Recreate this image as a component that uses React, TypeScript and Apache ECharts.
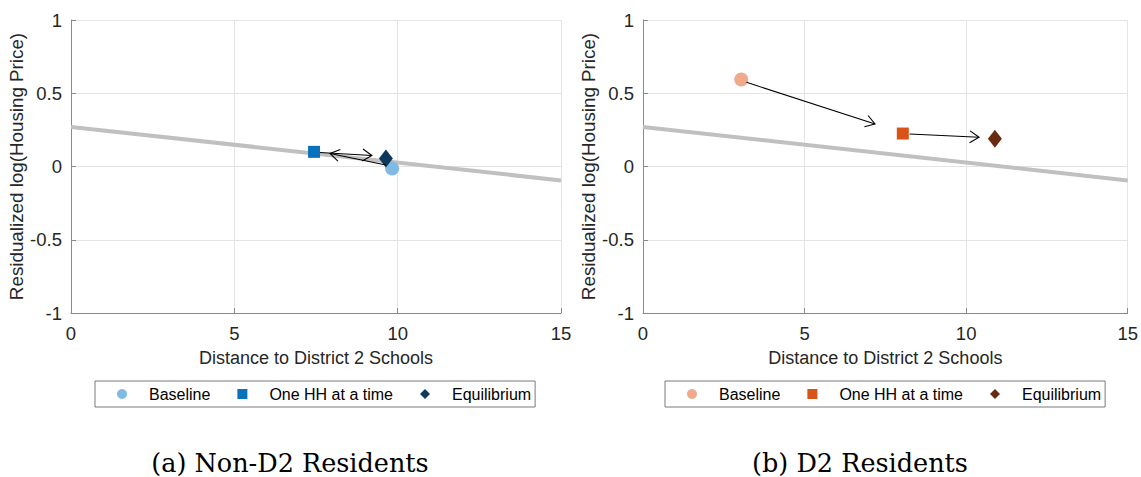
import React, { useEffect, useRef } from "react";
import * as echarts from "echarts";

const xTicks = [0, 5, 10, 15];
const yTicks = [-1, -0.5, 0, 0.5, 1];
const fitLine: number[][] = [[0, 0.27], [15, -0.095]];

const nonD2Baseline: number[][] = [[9.83, -0.014]];
const nonD2OneHH: number[][] = [[7.44, 0.1]];
const nonD2Equilibrium: number[][] = [[9.64, 0.055]];
const nonD2Arrows: number[][] = [
  [9.64, 0.01, 7.93, 0.089],
  [7.62, 0.096, 9.21, 0.075],
];

const d2Baseline: number[][] = [[3.04, 0.594]];
const d2OneHH: number[][] = [[8.04, 0.225]];
const d2Equilibrium: number[][] = [[10.89, 0.19]];
const d2Arrows: number[][] = [
  [3.2, 0.575, 7.18, 0.29],
  [8.25, 0.222, 10.4, 0.2],
];

const legendNames = ["Baseline", "One HH at a time", "Equilibrium"];
const nonD2Colors = ["#80b9e3", "#0a72bd", "#0d3a5c"];
const d2Colors = ["#f0a98b", "#d95319", "#6a2a10"];
const captions = ["(a) Non-D2 Residents", "(b) D2 Residents"];

const FONT = "'Liberation Sans', Arial, sans-serif";

function arrowRender(params: any, api: any) {
  const p1 = api.coord([api.value(0), api.value(1)]);
  const p2 = api.coord([api.value(2), api.value(3)]);
  const ang = Math.atan2(p2[1] - p1[1], p2[0] - p1[0]);
  const L = 11;
  const a = Math.PI / 5.5;
  const h1 = [p2[0] - L * Math.cos(ang - a), p2[1] - L * Math.sin(ang - a)];
  const h2 = [p2[0] - L * Math.cos(ang + a), p2[1] - L * Math.sin(ang + a)];
  return {
    type: "group",
    children: [
      {
        type: "line",
        shape: { x1: p1[0], y1: p1[1], x2: p2[0], y2: p2[1] },
        style: { stroke: "#000", lineWidth: 1.1 },
      },
      {
        type: "polyline",
        shape: { points: [h1, p2, h2] },
        style: { stroke: "#000", fill: null, lineWidth: 1.1 },
      },
    ],
  };
}

export default function App() {
  const ref = useRef<HTMLDivElement>(null);
  useEffect(() => {
    if (!ref.current) return;
    const chart = echarts.init(ref.current, undefined, { renderer: "svg" });
    const grids = [
      { left: 71, top: 20, width: 490, height: 293 },
      { left: 643, top: 20, width: 489, height: 293 },
    ];
    const axisCommon = {
      axisLine: { show: true, onZero: false, lineStyle: { color: "#8a8a8a", width: 1 } },
      axisTick: { show: true, inside: true, length: 5, lineStyle: { color: "#8a8a8a" } },
      splitLine: { show: true, lineStyle: { color: "#e4e4e4", width: 1 } },
      axisLabel: { color: "#262626", fontSize: 18.5, fontFamily: FONT },
    };
    const xAxis = [0, 1].map((i) => ({
      ...axisCommon,
      type: "value",
      gridIndex: i,
      min: 0,
      max: 15,
      interval: 5,
      name: "Distance to District 2 Schools",
      nameLocation: "middle",
      nameGap: 36,
      nameTextStyle: { color: "#262626", fontSize: 18, fontFamily: FONT },
      axisLabel: { ...axisCommon.axisLabel, margin: 11, formatter: (v: number) => (xTicks.includes(v) ? String(v) : "") },
    }));
    const yAxis = [0, 1].map((i) => ({
      ...axisCommon,
      type: "value",
      gridIndex: i,
      min: -1,
      max: 1,
      interval: 0.5,
      name: "Residualized log(Housing Price)",
      nameLocation: "middle",
      nameGap: 44,
      nameTextStyle: { color: "#262626", fontSize: 18.8, fontFamily: FONT },
      axisLabel: { ...axisCommon.axisLabel, margin: 9, formatter: (v: number) => (yTicks.includes(v) ? String(v) : "") },
    }));

    const panels = [
      { base: nonD2Baseline, one: nonD2OneHH, eq: nonD2Equilibrium, arrows: nonD2Arrows, colors: nonD2Colors, tag: "a" },
      { base: d2Baseline, one: d2OneHH, eq: d2Equilibrium, arrows: d2Arrows, colors: d2Colors, tag: "b" },
    ];
    const series: any[] = [];
    panels.forEach((p, i) => {
      series.push({
        type: "line",
        xAxisIndex: i,
        yAxisIndex: i,
        data: fitLine,
        showSymbol: false,
        lineStyle: { color: "#c0c0c0", width: 4 },
        silent: true,
        z: 1,
      });
      series.push({
        type: "custom",
        xAxisIndex: i,
        yAxisIndex: i,
        data: p.arrows,
        renderItem: arrowRender,
        encode: { x: [0, 2], y: [1, 3] },
        z: 4,
      });
      series.push({
        type: "scatter",
        name: legendNames[0] + "|" + p.tag,
        xAxisIndex: i,
        yAxisIndex: i,
        data: p.base,
        symbol: "circle",
        symbolSize: 14,
        itemStyle: { color: p.colors[0], opacity: 1 },
        z: 3,
      });
      series.push({
        type: "scatter",
        name: legendNames[1] + "|" + p.tag,
        xAxisIndex: i,
        yAxisIndex: i,
        data: p.one,
        symbol: "rect",
        symbolSize: 12,
        itemStyle: { color: p.colors[1], opacity: 1 },
        z: 3,
      });
      series.push({
        type: "scatter",
        name: legendNames[2] + "|" + p.tag,
        xAxisIndex: i,
        yAxisIndex: i,
        data: p.eq,
        symbol: "diamond",
        symbolSize: [14, 18],
        itemStyle: { color: p.colors[2], opacity: 1 },
        z: 3,
      });
    });

    const legend = panels.map((p, i) => ({
      data: legendNames.map((n, k) => ({
        name: n + "|" + p.tag,
        icon: ["circle", "rect", "diamond"][k],
        itemStyle: { color: p.colors[k] },
      })),
      formatter: (name: string) => name.split("|")[0],
      left: i === 0 ? 95 : 665,
      top: 381,
      orient: "horizontal",
      itemWidth: 10,
      itemHeight: 10,
      itemGap: 27,
      padding: [5, 4, 5, 22],
      borderColor: "#7a7a7a",
      borderWidth: 1,
      backgroundColor: "#fff",
      selectedMode: false,
      textStyle: { color: "#000", fontSize: 16, fontFamily: FONT, padding: [0, 0, 0, 17] },
    }));

    chart.setOption({
      animation: false,
      backgroundColor: "#fff",
      grid: grids,
      xAxis,
      yAxis,
      legend,
      series,
      graphic: captions.map((c, i) => ({
        type: "text",
        x: i === 0 ? 290 : 860,
        y: 463,
        style: {
          text: c,
          fontSize: 25.5,
          fontFamily: "'DejaVu Serif', serif",
          fill: "#000",
          align: "center",
          verticalAlign: "middle",
        },
      })),
    });
    return () => chart.dispose();
  }, []);
  return <div ref={ref} style={{ width: 1141, height: 477, position: "absolute", left: 0, top: 0 }} />;
}
